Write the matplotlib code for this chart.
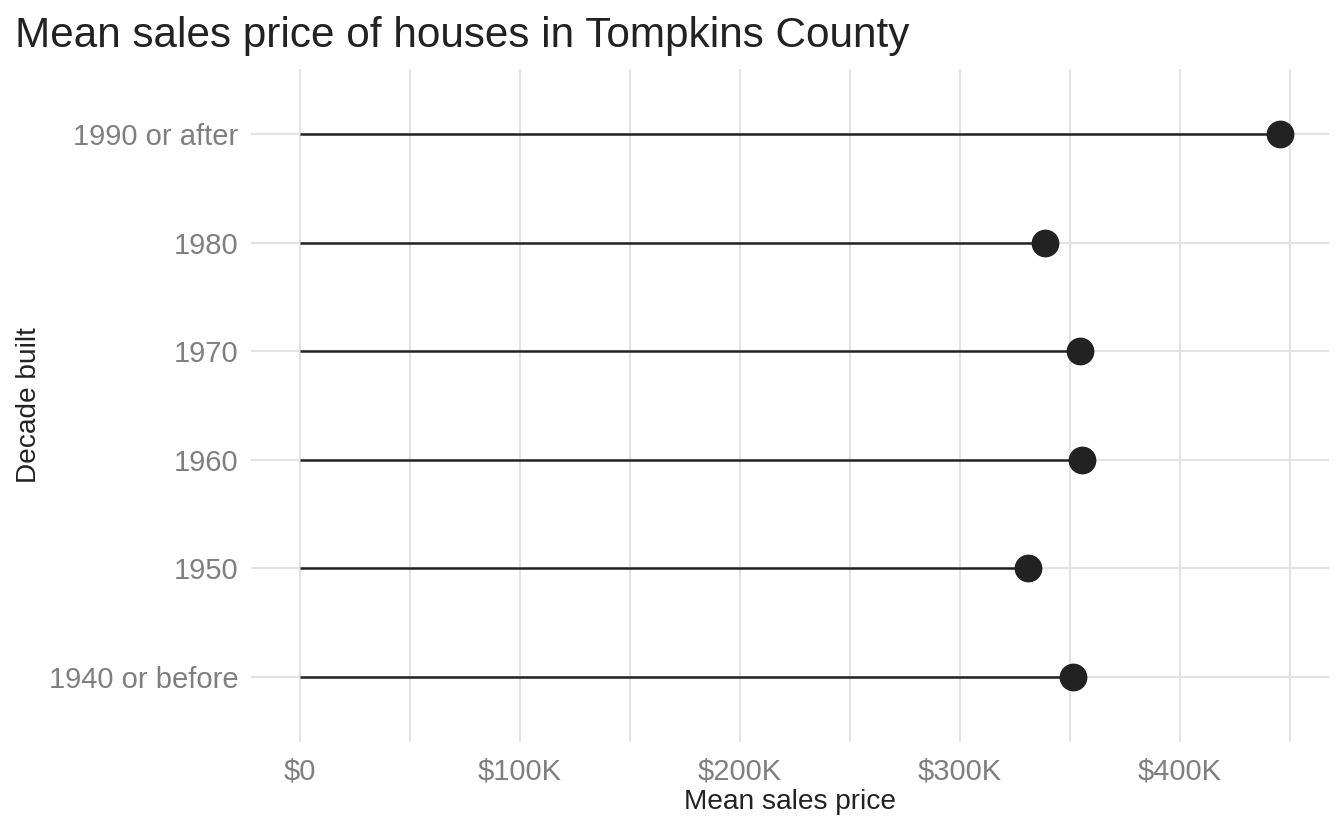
import matplotlib
matplotlib.use("Agg")
import matplotlib.pyplot as plt
from matplotlib.ticker import FuncFormatter, MultipleLocator

categories = ["1940 or before", "1950", "1960", "1970", "1980", "1990 or after"]
mean_price = [351400, 330900, 355500, 354500, 338600, 445500]

plt.rcParams['font.family'] = ['Liberation Sans', 'DejaVu Sans']

W, H = 1344, 830
fig = plt.figure(figsize=(W / 100, H / 100), dpi=100)
ax = fig.add_axes([251 / W, (H - 742) / H, (1329 - 251) / W, (742 - 69) / H])

ypos = list(range(1, len(categories) + 1))
ax.hlines(ypos, 0, mean_price, color="#222222", lw=1.8, zorder=3)
ax.plot(mean_price, ypos, "o", color="#222222", ms=19, zorder=4)

xmax = max(mean_price)
pad = 0.05 * xmax
ax.set_xlim(-pad, xmax + pad)
ax.set_ylim(0.4, len(categories) + 0.6)

ax.set_yticks(ypos)
ax.set_yticklabels(categories)
ax.xaxis.set_major_locator(MultipleLocator(100000))
ax.xaxis.set_minor_locator(MultipleLocator(50000))
ax.xaxis.set_major_formatter(FuncFormatter(lambda v, p: "$0" if v == 0 else f"${int(v/1000)}K"))

for s in ax.spines.values():
    s.set_visible(False)
ax.grid(which="major", color="#E3E3E3", lw=1.5)
ax.grid(which="minor", axis="x", color="#E3E3E3", lw=1.5)
ax.set_axisbelow(True)
ax.tick_params(which="both", length=0, labelsize=21, labelcolor="#7F7F7F")
ax.tick_params(axis="x", pad=11)
ax.tick_params(axis="y", pad=9)

ax.set_xlabel("Mean sales price", fontsize=20.2, color="#222222", labelpad=3)
ax.set_ylabel("Decade built", fontsize=20.2, color="#222222", labelpad=5)

fig.text(15 / W, 1 - 47 / H, "Mean sales price of houses in Tompkins County",
         fontsize=30.4, color="#222222", ha="left", va="baseline")

fig.savefig("out.png", dpi=100, facecolor="white")
